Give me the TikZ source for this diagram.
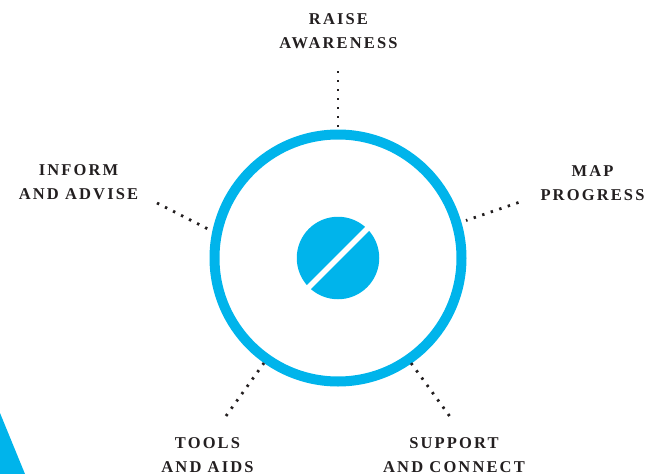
\documentclass[tikz,border=0pt]{standalone}
\usepackage{fontspec}
\setmainfont{Liberation Serif}
\definecolor{ringcyan}{HTML}{00B4EB}
\definecolor{labelink}{HTML}{231F20}
\newfontfamily\labelfont[UprightFont=* Bold, LetterSpace=13]{Liberation Serif}
\tikzset{
  lbl/.style={anchor=north, align=center, inner sep=0pt, text=labelink,
    font=\labelfont\fontsize{16.5}{24}\selectfont},
  dots/.style={draw=labelink, line width=2.8pt, dash pattern=on 2.4pt off 6.6pt},
}
\begin{document}
\begin{tikzpicture}[x=1pt,y=-1pt]
\useasboundingbox (0,0) rectangle (657,474);
% corner triangle
\fill[ringcyan] (0,413) -- (25,474) -- (0,474) -- cycle;
% ring and centre
\node[circle, draw=ringcyan, line width=10pt, minimum size=247pt, inner sep=0pt] (ring) at (338,258) {};
\node[circle, fill=ringcyan, minimum size=82.5pt, inner sep=0pt] (pill) at (338,258) {};
\draw[white, line width=5.5pt, shorten <=-3pt, shorten >=-3pt] (pill.south west) -- (pill.north east);
% labels
\node[lbl] (raise) at (338.5,13) {RAISE\\AWARENESS};
\node[lbl] (inform) at (78.5,164.5) {INFORM\\AND ADVISE};
\node[lbl] (map) at (592.5,165) {MAP\\PROGRESS};
\node[lbl] (tools) at (207.5,437.5) {TOOLS\\AND AIDS};
\node[lbl] (support) at (454,437.5) {SUPPORT\\AND CONNECT};
% connector ends
\coordinate (raiseA) at (338,71);
\coordinate (raiseB) at (338,127);
\coordinate (informA) at (157,203);
\coordinate (informB) at (209,229.5);
\coordinate (mapA) at (518.5,202.5);
\coordinate (mapB) at (466,220.5);
\coordinate (toolsA) at (226,416);
\coordinate (toolsB) at (264,363);
\coordinate (supportA) at (449.5,416);
\coordinate (supportB) at (411,363);
\draw[dots] (raiseA) -- (raiseB);
\draw[dots] (informA) -- (informB);
\draw[dots] (mapA) -- (mapB);
\draw[dots] (toolsA) -- (toolsB);
\draw[dots] (supportA) -- (supportB);
\end{tikzpicture}
\end{document}
